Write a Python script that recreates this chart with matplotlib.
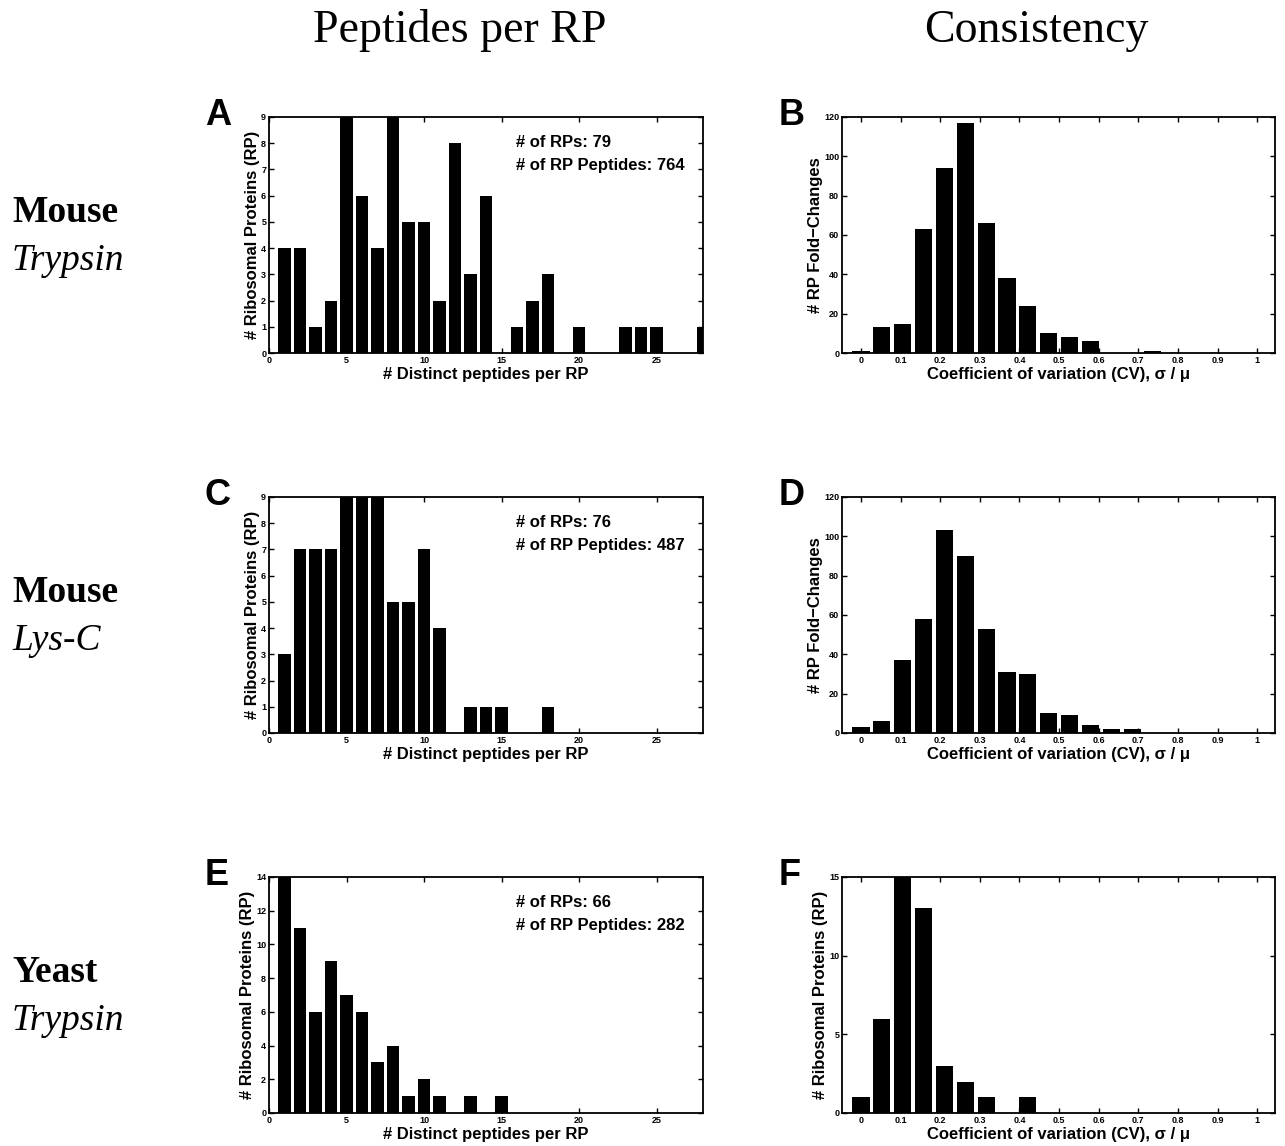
import numpy as np
import matplotlib
matplotlib.use("Agg")
import matplotlib.pyplot as plt

# ---------------- data ----------------
peptide_bins = list(range(1, 29))
counts_A = [4, 4, 1, 2, 9, 6, 4, 9, 5, 5, 2, 8, 3, 6, 0, 1, 2, 3, 0, 1, 0, 0, 1, 1, 1, 0, 0, 1]
counts_C = [3, 7, 7, 7, 9, 9, 9, 5, 5, 7, 4, 0, 1, 1, 1, 0, 0, 1, 0, 0, 0, 0, 0, 0, 0, 0, 0, 0]
counts_E = [14, 11, 6, 9, 7, 6, 3, 4, 1, 2, 1, 0, 1, 0, 1, 0, 0, 0, 0, 0, 0, 0, 0, 0, 0, 0, 0, 0]

cv_centers = np.linspace(0, 1, 20)
counts_B = [1, 13, 15, 63, 94, 117, 66, 38, 24, 10, 8, 6, 0, 0, 1, 0, 0, 0, 0, 0]
counts_D = [3, 6, 37, 58, 103, 90, 53, 31, 30, 10, 9, 4, 2, 2, 0, 0, 0, 0, 0, 0]
counts_F = [1, 6, 15, 13, 3, 2, 1, 0, 1, 0, 0, 0, 0, 0, 0, 0, 0, 0, 0, 0]

n_rps = [79, 76, 66]
n_peptides = [764, 487, 282]

col_titles = ["Peptides per RP", "Consistency"]
row_species = ["Mouse", "Mouse", "Yeast"]
row_enzymes = ["Trypsin", "Lys-C", "Trypsin"]
panel_letters = [["A", "B"], ["C", "D"], ["E", "F"]]

pep_xticks = [0, 5, 10, 15, 20, 25]
cv_xticks = [0, 0.1, 0.2, 0.3, 0.4, 0.5, 0.6, 0.7, 0.8, 0.9, 1]
cv_xticklabels = ["0", "0.1", "0.2", "0.3", "0.4", "0.5", "0.6", "0.7", "0.8", "0.9", "1"]
yticks_left = [list(range(0, 10)), list(range(0, 10)), list(range(0, 15, 2))]
ylims_left = [9, 9, 14]
yticks_right = [list(range(0, 121, 20)), list(range(0, 121, 20)), [0, 5, 10, 15]]
ylims_right = [120, 120, 15]
ylabels_right = ["# RP Fold\u2212Changes", "# RP Fold\u2212Changes", "# Ribosomal Proteins (RP)"]

# ---------------- figure ----------------
W, H = 1285, 1146
fig = plt.figure(figsize=(W / 100, H / 100), dpi=100)

SANS = "Liberation Sans"
SERIF = "Liberation Serif"
LABEL_FS = 12

def fx(px):
    return px / W

def fy(py):
    return 1 - py / H

left_x = (269, 703)
right_x = (842, 1275)
row_tops = [117, 497, 877]
ax_h = 236

def style_axes(ax):
    for sp in ax.spines.values():
        sp.set_linewidth(1.3)
        sp.set_color("black")
    ax.tick_params(direction="in", length=3.5, width=1.0, labelsize=6.5,
                   pad=2, top=True, right=True, colors="black")
    for lab in ax.get_xticklabels() + ax.get_yticklabels():
        lab.set_fontweight("bold")
        lab.set_fontfamily(SANS)

left_counts = [counts_A, counts_C, counts_E]
right_counts = [counts_B, counts_D, counts_F]

for r in range(3):
    top = row_tops[r]
    # left panel
    axL = fig.add_axes([fx(left_x[0]), fy(top + ax_h), fx(left_x[1] - left_x[0]), ax_h / H])
    axL.bar(peptide_bins, left_counts[r], width=0.82, color="black", edgecolor="none")
    axL.set_xlim(0, 28)
    axL.set_ylim(0, ylims_left[r])
    axL.set_xticks(pep_xticks)
    axL.set_yticks(yticks_left[r])
    axL.set_xlabel("# Distinct peptides per RP", fontsize=LABEL_FS, fontweight="bold",
                   fontfamily=SANS, labelpad=1.5)
    axL.set_ylabel("# Ribosomal Proteins (RP)", fontsize=LABEL_FS, fontweight="bold",
                   fontfamily=SANS, labelpad=1)
    style_axes(axL)
    axL.text(0.569, 0.873, f"# of RPs: {n_rps[r]}", transform=axL.transAxes,
             fontsize=LABEL_FS, fontweight="bold", fontfamily=SANS, va="baseline")
    axL.text(0.569, 0.775, f"# of RP Peptides: {n_peptides[r]}", transform=axL.transAxes,
             fontsize=LABEL_FS, fontweight="bold", fontfamily=SANS, va="baseline")

    # right panel
    axR = fig.add_axes([fx(right_x[0]), fy(top + ax_h), fx(right_x[1] - right_x[0]), ax_h / H])
    axR.bar(cv_centers, right_counts[r], width=0.82 * (cv_centers[1] - cv_centers[0]),
            color="black", edgecolor="none")
    axR.set_xlim(-0.048, 1.045)
    axR.set_ylim(0, ylims_right[r])
    axR.set_xticks(cv_xticks)
    axR.set_xticklabels(cv_xticklabels)
    axR.set_yticks(yticks_right[r])
    axR.set_xlabel("Coefficient of variation (CV), \u03c3 / \u03bc", fontsize=LABEL_FS,
                   fontweight="bold", fontfamily=SANS, labelpad=1.5)
    axR.set_ylabel(ylabels_right[r], fontsize=LABEL_FS, fontweight="bold",
                   fontfamily=SANS, labelpad=1)
    style_axes(axR)

    # panel letters
    fig.text(fx(205), fy(top + 8), panel_letters[r][0], fontsize=26, fontweight="bold",
             fontfamily=SANS, va="baseline", ha="left")
    fig.text(fx(779), fy(top + 8), panel_letters[r][1], fontsize=26, fontweight="bold",
             fontfamily=SANS, va="baseline", ha="left")

    # row labels
    fig.text(fx(12), fy(top + 105), row_species[r], fontsize=27, fontweight="bold",
             fontfamily=SERIF, va="baseline", ha="left")
    fig.text(fx(12), fy(top + 153), row_enzymes[r], fontsize=27, fontstyle="italic",
             fontfamily=SERIF, va="baseline", ha="left")

# column titles
fig.text(fx(460), fy(42), col_titles[0], fontsize=33, fontfamily=SERIF,
         va="baseline", ha="center")
fig.text(fx(1036), fy(42), col_titles[1], fontsize=33, fontfamily=SERIF,
         va="baseline", ha="center")

fig.savefig("out.png", dpi=100, facecolor="white")
